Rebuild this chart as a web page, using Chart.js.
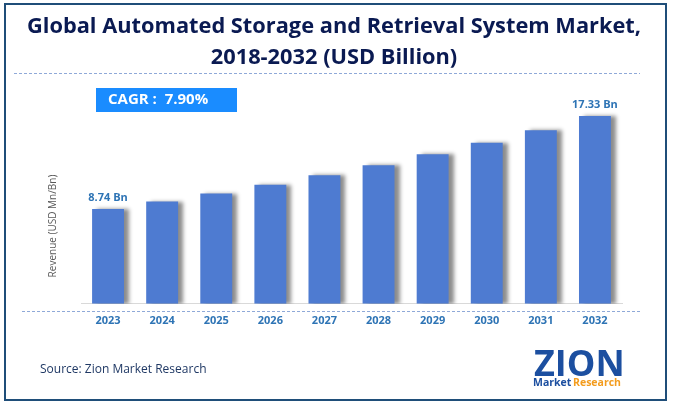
<!DOCTYPE html>
<html><head><meta charset="utf-8">
<script src="https://cdn.jsdelivr.net/npm/chart.js@4/dist/chart.umd.min.js"></script>
<style>html,body{margin:0;padding:0;background:#fff}#wrap{width:673px;height:409px;position:relative}</style>
</head><body><div id="wrap"><canvas id="c" width="673" height="409"></canvas></div>
<script>
const titleLines = ["Global Automated Storage and Retrieval System Market,", "2018-2032 (USD Billion)"];
const years = ["2023","2024","2025","2026","2027","2028","2029","2030","2031","2032"];
const revenue = [8.74, 9.43, 10.17, 10.98, 11.85, 12.78, 13.80, 14.85, 16.02, 17.33];
const labelledBars = {0: "8.74 Bn", 9: "17.33 Bn"};
const cagrText = "CAGR :  7.90%";
const yAxisTitle = "Revenue (USD Mn/Bn)";
const sourceText = "Source: Zion Market Research";

const deco = {
  id: 'deco',
  beforeDraw(chart) {
    const ctx = chart.ctx;
    ctx.save();
    ctx.fillStyle = '#fff';
    ctx.fillRect(0,0,chart.width,chart.height);
    ctx.restore();
  },
  beforeDatasetsDraw(chart) {
    const ctx = chart.ctx;
    ctx.save();
    ctx.shadowColor = 'rgba(0,0,0,0.45)';
    ctx.shadowOffsetX = 5;
    ctx.shadowOffsetY = 0;
    ctx.shadowBlur = 4;
  },
  afterDatasetsDraw(chart) {
    chart.ctx.restore();
  },
  afterDraw(chart) {
    const ctx = chart.ctx;
    ctx.save();
    // border
    ctx.strokeStyle = '#1f4e79';
    ctx.lineWidth = 2;
    ctx.strokeRect(5, 4, 661, 396);
    // title
    ctx.fillStyle = '#0a1a52';
    ctx.font = 'bold 21.8px "Open Sans"';
    ctx.textAlign = 'center';
    ctx.textBaseline = 'middle';
    ctx.fillText(titleLines[0], 334, 27);
    ctx.fillText(titleLines[1], 334, 58);
    // dashed lines
    ctx.strokeStyle = '#8fa9d8';
    ctx.lineWidth = 1;
    ctx.setLineDash([3,2]);
    ctx.beginPath(); ctx.moveTo(14, 73.5); ctx.lineTo(640, 73.5); ctx.stroke();
    ctx.beginPath(); ctx.moveTo(22, 311.5); ctx.lineTo(640, 311.5); ctx.stroke();
    ctx.setLineDash([]);
    // CAGR box
    ctx.fillStyle = '#1a8cff';
    ctx.fillRect(96, 88, 141, 24);
    ctx.fillStyle = '#fff';
    ctx.font = 'bold 15px "Open Sans"';
    ctx.textAlign = 'left';
    ctx.fillText(cagrText, 108, 100);
    // bar labels
    const meta = chart.getDatasetMeta(0);
    ctx.fillStyle = '#2e74b5';
    ctx.font = 'bold 11px "Open Sans"';
    ctx.textAlign = 'center';
    ctx.textBaseline = 'bottom';
    for (const k in labelledBars) {
      const el = meta.data[k];
      ctx.fillText(labelledBars[k], el.x, el.y - 6);
    }
    // y axis title
    ctx.save();
    ctx.translate(53, 226);
    ctx.rotate(-Math.PI/2);
    ctx.fillStyle = '#595959';
    ctx.font = '10px "Open Sans"';
    ctx.textAlign = 'center';
    ctx.textBaseline = 'middle';
    ctx.fillText(yAxisTitle, 0, 0);
    ctx.restore();
    // source
    ctx.fillStyle = '#1f3864';
    ctx.font = '12px "Open Sans"';
    ctx.textAlign = 'left';
    ctx.textBaseline = 'middle';
    ctx.fillText(sourceText, 40, 370);
    // logo
    ctx.textAlign = 'left';
    ctx.textBaseline = 'alphabetic';
    ctx.fillStyle = '#1c4fa0';
    ctx.font = 'bold 36px "Open Sans"';
    ctx.fillText('ZION', 534, 376);
    ctx.font = 'bold 10.5px "Open Sans"';
    ctx.fillStyle = '#1c4fa0';
    ctx.fillText('Market', 533, 386);
    ctx.fillStyle = '#f39c1e';
    ctx.fillText('Research', 573, 386);
    ctx.restore();
  }
};

new Chart(document.getElementById('c'), {
  type: 'bar',
  data: {
    labels: years,
    datasets: [{
      data: revenue,
      backgroundColor: '#4e7bd1',
      borderWidth: 0,
      barPercentage: 0.59,
      categoryPercentage: 1.0
    }]
  },
  options: {
    responsive: false,
    animation: false,
    devicePixelRatio: 1,
    layout: { padding: { left: 81, right: 51, top: 87, bottom: 72 } },
    plugins: { legend: { display: false }, tooltip: { enabled: false }, title: { display: false } },
    scales: {
      x: {
        grid: { display: false, drawTicks: false },
        border: { display: true, color: '#d9d9d9', width: 1 },
        ticks: { color: '#2e74b5', font: { family: 'Open Sans', size: 11, weight: 'bold' }, padding: 10 }
      },
      y: {
        display: false,
        min: 0,
        max: 20
      }
    }
  },
  plugins: [deco]
});
</script>
</body></html>
